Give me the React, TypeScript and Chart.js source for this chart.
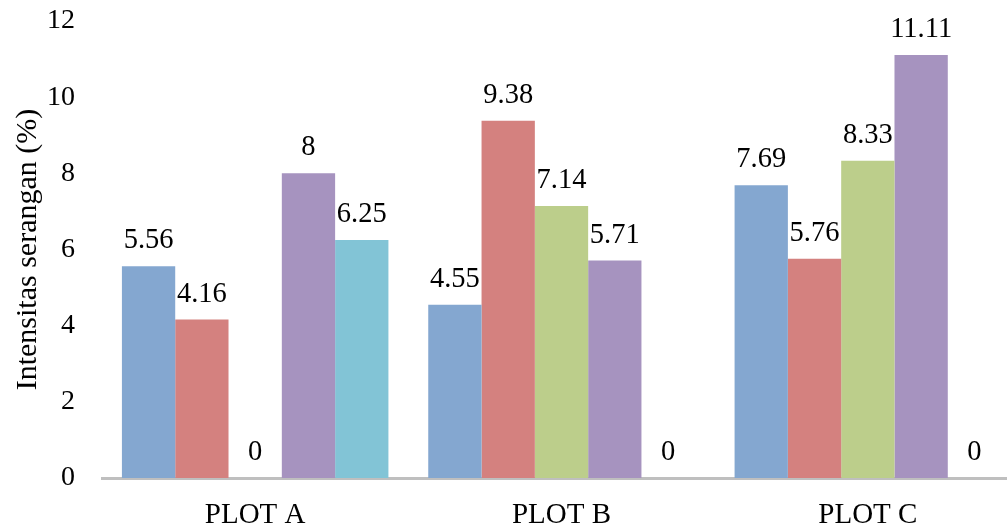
import React, { useEffect, useRef } from "react";
import { Chart, registerables } from "chart.js";

Chart.register(...registerables);

const categories = ["PLOT A", "PLOT B", "PLOT C"];
const series1 = [5.56, 4.55, 7.69];
const series2 = [4.16, 9.38, 5.76];
const series3 = [0, 7.14, 8.33];
const series4 = [8, 5.71, 11.11];
const series5 = [6.25, 0, 0];
const seriesNames = ["Seri 1", "Seri 2", "Seri 3", "Seri 4", "Seri 5"];
const seriesColors = ["#84A7D0", "#D4817F", "#BCCE8B", "#A693BF", "#82C4D6"];
const yTicks = [0, 2, 4, 6, 8, 10, 12];
const yTitle = "Intensitas serangan (%)";

const FONT = "'Liberation Serif', 'Times New Roman', serif";

const valueLabels = {
  id: "valueLabels",
  afterDatasetsDraw(chart: any) {
    const ctx = chart.ctx;
    ctx.save();
    ctx.fillStyle = "#000";
    ctx.font = `28.5px ${FONT}`;
    ctx.textAlign = "center";
    ctx.textBaseline = "alphabetic";
    chart.data.datasets.forEach((ds: any, i: number) => {
      const meta = chart.getDatasetMeta(i);
      meta.data.forEach((bar: any, j: number) => {
        const v = ds.data[j];
        ctx.fillText(String(v), bar.x, bar.y - 18);
      });
    });
    ctx.restore();
  },
};

export default function App() {
  const ref = useRef<HTMLCanvasElement | null>(null);
  useEffect(() => {
    if (!ref.current) return;
    const allSeries = [series1, series2, series3, series4, series5];
    const chart = new Chart(ref.current, {
      type: "bar",
      data: {
        labels: categories,
        datasets: allSeries.map((d, i) => ({
          label: seriesNames[i],
          data: d,
          backgroundColor: seriesColors[i],
          borderWidth: 0,
          barPercentage: 1,
          categoryPercentage: 0.87,
        })),
      },
      options: {
        responsive: false,
        animation: false,
        layout: { padding: { top: 21, left: 0, right: 9, bottom: 0 } },
        plugins: { legend: { display: false }, tooltip: { enabled: false } },
        scales: {
          x: {
            grid: { display: false, drawTicks: false },
            border: { display: true, color: "#BFBFBF", width: 3 },
            ticks: { color: "#000", font: { family: FONT, size: 29 }, padding: 20 },
            afterFit: (s: any) => {
              s.height = 50;
              s.paddingLeft = 0;
              s.paddingRight = 0;
            },
          },
          y: {
            min: 0,
            max: 12,
            afterBuildTicks: (s: any) => { s.ticks = yTicks.map((v) => ({ value: v })); },
            grid: { display: false, drawTicks: false },
            border: { display: false },
            ticks: { color: "#000", font: { family: FONT, size: 28 }, padding: 27 },
            title: {
              display: true,
              text: yTitle,
              color: "#000",
              font: { family: FONT, size: 30 },
              padding: { top: 10, bottom: 0 },
            },
            afterFit: (s: any) => {
              s.width = 102;
              s.paddingTop = 0;
              s.paddingBottom = 0;
            },
          },
        },
      },
      plugins: [valueLabels],
    });
    return () => chart.destroy();
  }, []);
  return (
    <div style={{ position: "fixed", left: 0, top: 0, width: 1007, height: 528, overflow: "hidden", background: "#fff" }}>
      <canvas ref={ref} width={1030} height={528} style={{ width: 1030, height: 528, display: "block" }} />
    </div>
  );
}
